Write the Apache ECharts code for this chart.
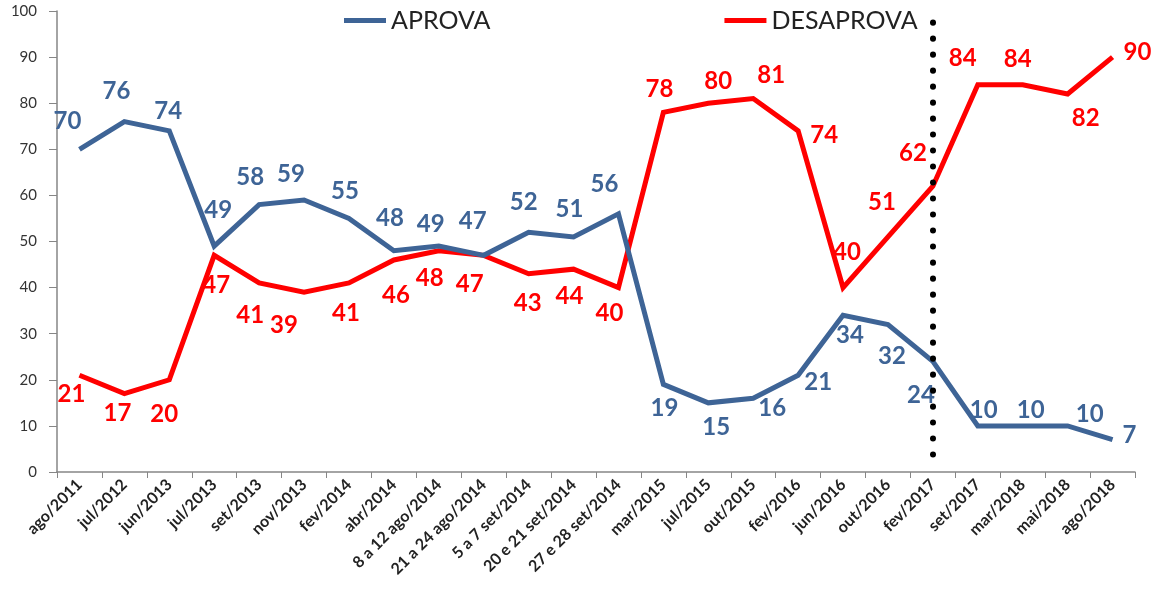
<!DOCTYPE html>
<html>
<head>
<meta charset="utf-8">
<script src="https://cdn.jsdelivr.net/npm/echarts@6/dist/echarts.min.js"></script>
<style>
html,body{margin:0;padding:0;background:#fff;}
#chart{width:1157px;height:598px;}
</style>
</head>
<body>
<div id="chart"></div>
<script>
var categories = ['ago/2011','jul/2012','jun/2013','jul/2013','set/2013','nov/2013','fev/2014','abr/2014','8 a 12 ago/2014','21 a 24 ago/2014','5 a 7 set/2014','20 e 21 set/2014','27 e 28 set/2014','mar/2015','jul/2015','out/2015','fev/2016','jun/2016','out/2016','fev/2017','set/2017','mar/2018','mai/2018','ago/2018'];
var aprova    = [70,76,74,49,58,59,55,48,49,47,52,51,56,19,15,16,21,34,32,24,10,10,10,7];
var desaprova = [21,17,20,47,41,39,41,46,48,47,43,44,40,78,80,81,74,40,51,62,84,84,82,90];
var yTicks = {min:0, max:100, interval:10};
var dividerCategory = 'fev/2017';

// label offsets (pixels, relative to the point) for each data label
var aprovaLabelOffset = [[-12,-28],[-8,-30],[-1,-20],[4,-36],[-9,-27],[-13,-26],[-4,-27],[-4,-32],[-8,-22],[-11,-34],[-5,-30],[-4,-28],[-14,-30],[1,24],[8,24],[19,10],[20,7],[7,20],[4,32],[-12,34],[6,-16],[8,-16],[22,-12],[17,-4]];
var desaprovaLabelOffset = [[-8,19],[-7,20],[-5,34],[2,30],[-9,32],[-20,33],[-3,30],[2,35],[-9,28],[-14,29],[-1,29],[-4,27],[-9,26],[-4,-23],[10,-22],[18,-23],[26,4],[4,-35],[-6,-35],[-20,-33],[-15,-26],[-5,-25],[18,24],[25,-5]];

var BLUE = '#3E6496', RED = '#FF0000';
var labelFont = 'Lato, "Open Sans", sans-serif';

function buildData(values, offsets) {
  return values.map(function (v, i) {
    return {value: v, label: {offset: offsets[i]}};
  });
}

var chart = echarts.init(document.getElementById('chart'), null, {renderer:'canvas'});
chart.setOption({
  animation: false,
  backgroundColor: '#fff',
  grid: {left: 57, right: 22, top: 11, bottom: 126, containLabel: false},
  legend: {
    left: 339, top: 3,
    icon: 'rect', itemWidth: 42, itemHeight: 5, itemGap: 234,
    textStyle: {fontFamily: labelFont, fontSize: 25, color: '#222', padding: [0,0,0,0]},
    data: ['APROVA','DESAPROVA']
  },
  xAxis: {
    type: 'category',
    data: categories,
    boundaryGap: true,
    axisLine: {lineStyle: {color: '#868686', width: 1.5}},
    axisTick: {show: true, length: 6, lineStyle: {color: '#868686'}},
    axisLabel: {interval: 0, rotate: 45, margin: 10, fontFamily: labelFont, fontWeight: 'bold', fontSize: 16, color: '#222'},
    splitLine: {show: false}
  },
  yAxis: {
    type: 'value',
    min: yTicks.min, max: yTicks.max, interval: yTicks.interval,
    axisLine: {show: true, lineStyle: {color: '#868686', width: 1.5}},
    axisTick: {show: true, length: 8, lineStyle: {color: '#868686'}},
    axisLabel: {margin: 20, fontFamily: labelFont, fontSize: 15, color: '#333'},
    splitLine: {show: false}
  },
  series: [
    {
      name: 'APROVA', type: 'line',
      data: buildData(aprova, aprovaLabelOffset),
      symbol: 'circle', symbolSize: 0, showSymbol: true,
      lineStyle: {color: BLUE, width: 5, join: 'miter'},
      itemStyle: {color: BLUE},
      label: {show: true, position: 'inside', fontFamily: labelFont, fontWeight: 'bold', fontSize: 24, color: BLUE},
      emphasis: {disabled: true},
      z: 3
    },
    {
      name: 'DESAPROVA', type: 'line',
      data: buildData(desaprova, desaprovaLabelOffset),
      symbol: 'circle', symbolSize: 0, showSymbol: true,
      lineStyle: {color: RED, width: 5, join: 'miter'},
      itemStyle: {color: RED},
      label: {show: true, position: 'inside', fontFamily: labelFont, fontWeight: 'bold', fontSize: 24, color: RED},
      emphasis: {disabled: true},
      z: 2,
      markLine: {
        silent: true,
        symbol: ['none','none'],
        label: {show: false},
        lineStyle: {color: '#000', width: 6, type: [0.1, 15.9], cap: 'round', opacity: 1},
        data: [[{xAxis: dividerCategory, yAxis: 97.5}, {xAxis: dividerCategory, yAxis: 1}]]
      }
    }
  ]
});
</script>
</body>
</html>
